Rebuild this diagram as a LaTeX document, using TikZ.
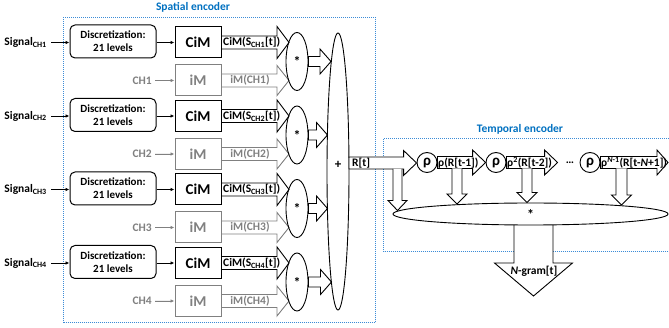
\documentclass[tikz,border=0pt]{standalone}
\usepackage{fontspec}
\setmainfont{Carlito}
\usetikzlibrary{shapes.geometric,arrows.meta,calc}
\definecolor{encblue}{RGB}{0,112,192}
\definecolor{dotblue}{RGB}{60,140,215}
\definecolor{imgray}{RGB}{128,128,128}
% horizontal block arrow: style, from, to, head length, shaft half, head half
\newcommand\hfat[6]{%
  \filldraw[#1] let \p1=#2, \p2=#3 in
    (\x1,\y1-#5pt) -- (\x2-#4pt,\y1-#5pt) -- (\x2-#4pt,\y1-#6pt) -- (\x2,\y1)
    -- (\x2-#4pt,\y1+#6pt) -- (\x2-#4pt,\y1+#5pt) -- (\x1,\y1+#5pt) -- cycle;}
% vertical (downward) block arrow with open top
\newcommand\vfat[6]{%
  \draw[#1] let \p1=#2, \p2=#3 in
    (\x1-#5pt,\y1) -- (\x1-#5pt,\y2+#4pt) -- (\x1-#6pt,\y2+#4pt) -- (\x1,\y2)
    -- (\x1+#6pt,\y2+#4pt) -- (\x1+#5pt,\y2+#4pt) -- (\x1+#5pt,\y1);}
\tikzset{
  lbl/.style={font=\bfseries\fontsize{11.5}{13}\selectfont, inner sep=0pt},
  disc/.style={draw, rounded corners=5pt, minimum width=86pt, minimum height=33pt,
    align=center, inner sep=0pt, line width=1pt, font=\bfseries\fontsize{11}{13}\selectfont},
  cimbox/.style={draw, minimum width=46pt, minimum height=31pt, inner sep=0pt,
    line width=1pt, font=\bfseries\fontsize{15}{16}\selectfont},
  imbox/.style={cimbox, draw=imgray, text=imgray},
  mul/.style={ellipse, draw, line width=0.9pt, minimum width=22pt, minimum height=58pt,
    inner sep=0pt, font=\bfseries\fontsize{14}{15}\selectfont},
  rhoc/.style={circle, draw, line width=0.9pt, minimum size=20pt, inner sep=0pt,
    font=\bfseries\fontsize{15}{16}\selectfont},
  thinarr/.style={-{Latex[length=4pt,width=3.5pt]}, line width=0.8pt},
  fatb/.style={draw=black, fill=white, line width=0.9pt},
  fatg/.style={draw=imgray, fill=white, line width=0.9pt},
  enc/.style={draw=dotblue, dash pattern=on 1pt off 1pt, line width=1pt},
  ttl/.style={text=encblue, font=\bfseries\fontsize{11.5}{13}\selectfont},
}
\begin{document}
\begin{tikzpicture}[x=1pt,y=-1pt]
\useasboundingbox (0,0) rectangle (669,328);
% encoder frames
\draw[enc] (63,17.5) rectangle (375,323);
\draw[enc] (383.5,139) rectangle (672,252);
\node[ttl] (sptitle) at (193,7) {Spatial encoder};
\node[ttl] (tmtitle) at (520,129) {Temporal encoder};

% channels
\foreach \k/\yc/\tx in {1/42.5/331, 2/116/327.5, 3/189.5/327.5, 4/263/331.5}{
  \pgfmathsetmacro\yi{\yc+38}
  \pgfmathsetmacro\ym{\yc+19}
  \node[lbl, anchor=east] (sig\k) at (47,\yc) {Signal\textsubscript{CH\k}};
  \node[disc] (disc\k) at (113,\yc-1) {Discretization:\\21 levels};
  \node[cimbox] (cim\k) at (198,\yc) {CiM};
  \node[lbl, anchor=east, text=imgray] (ch\k) at (152,\yi) {CH\k};
  \node[imbox] (im\k) at (198,\yi) {iM};
  \draw[thinarr] (sig\k.east) ++(4,0) -- (disc\k.west |- sig\k.east);
  \draw[thinarr] (disc\k.east |- cim\k.west) -- (cim\k.west);
  \draw[thinarr, draw=imgray, fill=imgray] (ch\k.east) ++(3,0) -- (im\k.west);
  \coordinate (ct\k) at (289,\yc);
  \coordinate (it\k) at (289,\yi);
  \hfat{fatb}{(cim\k.east)}{(ct\k)}{12}{6.5}{16}
  \hfat{fatg}{(im\k.east)}{(it\k)}{12}{6.5}{15}
  \node[lbl, anchor=west] (cl\k) at (223,\yc) {CiM(S\textsubscript{CH\k}[t])};
  \node[lbl, text=imgray] (il\k) at (250,\yi) {iM(CH\k)};
  \node[mul] (mul\k) at (297,\ym) {*};
  \coordinate (st\k) at (\tx,\ym);
  \hfat{fatb}{(mul\k.east)}{(st\k)}{11}{5}{12.5}
}

% sum
\node[ellipse, draw, line width=0.9pt, minimum width=22pt, minimum height=277pt, inner sep=0pt] (sum) at (338,171.5) {};
\node[lbl, font=\bfseries\fontsize{13}{14}\selectfont] (plus) at (338,165) {+};

% temporal encoder
\node[rhoc] (r1) at (427,162.5) {ρ};
\node[rhoc] (r2) at (496,162.5) {ρ};
\node[rhoc] (r3) at (590,162.5) {ρ};
\node[lbl] (dots) at (570,163) {…};
\coordinate (rs) at (349,163);
\coordinate (rend) at (668,162.5);
\hfat{fatb}{(rs)}{(r1.west)}{13}{6}{12.5}
\hfat{fatb}{(r1.east)}{(r2.west)}{13}{6}{12.5}
\hfat{fatb}{(r2.east)}{($(r3.west)+(-22,0)$)}{13}{6}{12.5}
\hfat{fatb}{(r3.east)}{(rend)}{11}{6}{12.5}
\node[lbl, anchor=west] (rl) at (352,163) {R[t]};
\node[lbl, anchor=west] (l1) at (438,163) {ρ(R[t-1])};
\node[lbl, anchor=west] (l2) at (507,163) {ρ\textsuperscript{2}(R[t-2])};
\node[lbl, anchor=west] (l3) at (601,163) {ρ\textsuperscript{\textit{N}-1}(R[t-\textit{N}+1])};

% down arrows into the product
\coordinate (d0a) at (397.5,169);   \coordinate (d0b) at (397.5,210.5);
\coordinate (d1a) at (457,168.5);   \coordinate (d1b) at (457,204);
\coordinate (d2a) at (527,168.5);   \coordinate (d2b) at (527,202.5);
\coordinate (d3a) at (621.5,168.5); \coordinate (d3b) at (621.5,205);
\vfat{fatb}{(d0a)}{(d0b)}{10}{4.5}{9.5}
\vfat{fatb}{(d1a)}{(d1b)}{10}{5}{10}
\vfat{fatb}{(d2a)}{(d2b)}{10}{5}{10}
\vfat{fatb}{(d3a)}{(d3b)}{10}{5.5}{10}

% output arrow
\coordinate (oa) at (533.5,220);
\coordinate (ob) at (533.5,296);
\vfat{fatb}{(oa)}{(ob)}{33}{19.5}{39}
\node[lbl] (ng) at (534,271) {\textit{N}-gram[t]};

% temporal product
\node[ellipse, draw, fill=white, line width=0.9pt, minimum width=275pt, minimum height=22pt, inner sep=0pt,
  font=\bfseries\fontsize{14}{15}\selectfont] (prod) at (530.5,214) {*};
\end{tikzpicture}
\end{document}
